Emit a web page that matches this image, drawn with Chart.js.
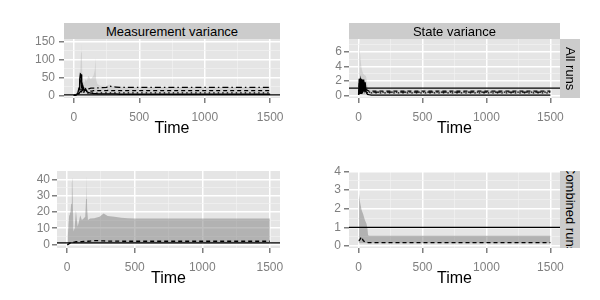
<!DOCTYPE html>
<html>
<head>
<meta charset="utf-8">
<script src="https://cdn.jsdelivr.net/npm/chart.js@4.4.1/dist/chart.umd.min.js"></script>
<style>
  body { margin: 0; background: #fff; }
  #wrap { position: relative; width: 600px; height: 300px; font-family: "Liberation Sans", Arial, sans-serif; }
  canvas { position: absolute; }
  .strip { position: absolute; background: #CCCCCC; color: #000; font-size: 13px; display: flex;
           align-items: center; justify-content: center; overflow: hidden; white-space: nowrap; }
  .strip.side { writing-mode: vertical-rl; }
</style>
</head>
<body>
<div id="wrap">
  <canvas id="tl" width="300" height="150" style="left:0;top:0"></canvas>
  <canvas id="tr" width="300" height="150" style="left:300px;top:0"></canvas>
  <canvas id="bl" width="300" height="150" style="left:0;top:150px"></canvas>
  <canvas id="br" width="300" height="150" style="left:300px;top:150px"></canvas>
  <div class="strip" style="left:64px;top:23px;width:216px;height:16px">Measurement variance</div>
  <div class="strip" style="left:349px;top:23px;width:211px;height:16px">State variance</div>
  <div class="strip side" style="left:560px;top:39px;width:20px;height:59px">All runs</div>
  <div class="strip side" style="left:560px;top:171px;width:20px;height:77px">Combined runs</div>
</div>
<script>
const FONT = '"Liberation Sans", Arial, sans-serif';
const xMin = -75, xMax = 1575;
const xMajor = [0, 500, 1000, 1500];
const xMinor = [250, 750, 1250];
const trueValue = 1;

// measurement variance, all runs
const tlTime = [0, 10, 20, 30, 40, 45, 50, 55, 60, 65, 70, 80, 90, 100, 110, 120, 130, 140, 150, 160,
  165, 170, 180, 200, 250, 270, 290, 320, 350, 400, 500, 600, 700, 800, 900, 1000, 1100, 1200, 1300, 1400, 1500];
const tlRibbonHigh = [0, 2, 8, 20, 35, 50, 70, 120, 150, 50, 40, 35, 45, 40, 55, 50, 45, 50, 55, 70,
  105, 45, 32, 27, 26, 30, 27, 26, 25, 24, 23, 23, 23, 23, 23, 23, 23, 23, 23, 23, 23];
const tlRibbonLow = [0, 0, 0, 0, 0, 0, 0, 0, 0, 0, 0, 0, 0, 0, 0, 0, 0, 0, 0, 0,
  0, 0, 0, 0, 0, 0, 0, 0, 0, 0, 0, 0, 0, 0, 0, 0, 0, 0, 0, 0, 0];
const tlRun1 = [0, 0, 2, 6, 20, 45, 60, 58, 30, 15, 25, 12, 18, 10, 8, 7, 6, 6, 5, 5,
  5, 5, 4, 4, 4, 4, 4, 4, 3, 3, 3, 3, 3, 3, 3, 3, 3, 3, 3, 3, 3];
const tlRun2 = [0, 0, 1, 4, 15, 30, 40, 35, 20, 12, 18, 25, 15, 12, 10, 11, 12, 12, 13, 13,
  13, 13, 13, 13, 13, 14, 13, 13, 13, 13, 13, 13, 13, 13, 13, 13, 13, 13, 13, 13, 13];
const tlRun3 = [0, 0, 1, 3, 8, 15, 22, 18, 10, 8, 10, 8, 7, 6, 6, 6, 6, 6, 6, 6,
  6, 6, 6, 7, 7, 7, 7, 7, 7, 7, 7, 7, 7, 7, 7, 7, 7, 7, 7, 7, 7];
const tlRun4 = [0, 0, 1, 2, 5, 8, 10, 12, 10, 8, 10, 12, 15, 17, 18, 19, 20, 20, 20, 20,
  20, 21, 21, 21, 22, 27, 24, 23, 22, 22, 22, 22, 22, 22, 22, 22, 22, 22, 22, 22, 22];

// state variance, all runs
const trTime = [0, 5, 10, 15, 20, 25, 30, 35, 40, 45, 50, 55, 60, 70, 80, 100,
  150, 200, 300, 400, 500, 600, 700, 800, 900, 1000, 1100, 1200, 1300, 1400, 1500];
const trRibbonHigh = [1.0, 7.5, 6.0, 5.0, 4.2, 3.6, 3.3, 3.0, 2.9, 2.8, 2.8, 2.7, 2.5, 1.2, 0.9, 0.8,
  0.8, 0.8, 0.8, 0.8, 0.8, 0.8, 0.8, 0.8, 0.8, 0.8, 0.8, 0.8, 0.8, 0.8, 0.8];
const trRibbonLow = [0, 0, 0, 0, 0, 0, 0, 0, 0, 0, 0, 0, 0, 0, 0, 0,
  0, 0, 0, 0, 0, 0, 0, 0, 0, 0, 0, 0, 0, 0, 0];
const trRun1 = [0.1, 2.3, 0.2, 2.3, 0.3, 2.2, 0.3, 2.2, 0.5, 1.8, 0.6, 1.2, 0.4, 0.15, 0.1, 0.05,
  0.05, 0.05, 0.05, 0.05, 0.05, 0.05, 0.05, 0.05, 0.05, 0.05, 0.05, 0.05, 0.05, 0.05, 0.05];
const trRun2 = [0.2, 1.5, 2.3, 0.4, 2.3, 0.5, 2.2, 0.6, 2.0, 0.8, 1.2, 0.9, 0.8, 0.7, 0.6, 0.6,
  0.6, 0.6, 0.6, 0.6, 0.6, 0.6, 0.6, 0.6, 0.6, 0.6, 0.6, 0.6, 0.6, 0.6, 0.6];
const trRun3 = [0.1, 0.8, 1.6, 2.1, 1.2, 2.2, 1.0, 1.8, 1.3, 0.9, 0.6, 0.5, 0.45, 0.4, 0.35, 0.35,
  0.35, 0.35, 0.35, 0.35, 0.35, 0.35, 0.35, 0.35, 0.35, 0.35, 0.35, 0.35, 0.35, 0.35, 0.35];
const trRun4 = [0.1, 0.5, 1.0, 1.8, 2.2, 1.5, 2.1, 1.6, 1.0, 0.7, 0.6, 0.55, 0.5, 0.45, 0.45, 0.45,
  0.45, 0.45, 0.45, 0.45, 0.45, 0.45, 0.45, 0.45, 0.45, 0.45, 0.45, 0.45, 0.45, 0.45, 0.45];

// measurement variance, combined runs
const blTime = [0, 5, 10, 15, 20, 25, 30, 35, 38, 42, 47, 55, 65, 72, 78, 87, 97, 109, 122, 134,
  140, 144, 148, 154, 170, 200, 240, 270, 300, 350, 400, 450, 500, 700, 1000, 1500];
const blRibbonHigh = [0, 5, 12, 18, 19, 20, 25, 38, 41, 25, 8, 10, 21, 15, 11, 14, 18, 15, 16, 17,
  28, 43, 22, 15, 16, 16.2, 17, 19, 17.5, 17, 16.5, 16.2, 16, 16, 16, 16];
const blRibbonLow = [0, 0.4, 0.5, 0.6, 0.6, 0.6, 0.6, 0.6, 0.6, 0.6, 0.6, 0.6, 0.6, 0.6, 0.6, 0.6, 0.6, 0.6, 0.6, 0.6,
  0.6, 0.6, 0.6, 0.6, 0.6, 0.6, 0.6, 0.6, 0.6, 0.6, 0.6, 0.6, 0.6, 0.6, 0.6, 0.6];
const blMean = [0, 0, 0.2, 0.5, 0.8, 1.0, 1.2, 1.4, 1.5, 1.5, 1.4, 1.5, 1.7, 1.7, 1.6, 1.7, 1.8, 1.8, 1.9, 1.9,
  2.0, 2.2, 2.1, 2.0, 2.1, 2.4, 2.3, 2.2, 2.1, 2.1, 2.0, 2.0, 2.0, 2.0, 2.0, 2.0];

// state variance, combined runs
const brTime = [0, 3, 10, 23, 36, 49, 62, 70, 74, 80, 100, 200, 500, 1000, 1500];
const brRibbonHigh = [0.2, 2.8, 2.4, 1.95, 1.7, 1.4, 1.2, 0.9, 0.6, 0.55, 0.55, 0.55, 0.55, 0.55, 0.55];
const brRibbonLow = [0.15, 0.15, 0.15, 0.15, 0.15, 0.15, 0.15, 0.15, 0.15, 0.15, 0.15, 0.15, 0.15, 0.15, 0.15];
const brMean = [0.3, 0.3, 0.35, 0.5, 0.3, 0.22, 0.2, 0.2, 0.19, 0.19, 0.19, 0.19, 0.19, 0.19, 0.19];

const dashes = { solid: [], dashed: [4, 3], dotted: [1.5, 3], dotdash: [1.5, 3, 6, 3] };

function pts(times, values) {
  return times.map((t, i) => ({ x: t, y: values[i] }));
}

const panelBg = {
  id: 'panelBg',
  beforeDraw(chart) {
    const { ctx, chartArea: a } = chart;
    ctx.save();
    ctx.fillStyle = '#E5E5E5';
    ctx.fillRect(a.left, a.top, a.right - a.left, a.bottom - a.top);
    ctx.restore();
  },
};

function gridOpts(major) {
  return {
    color: c => major.includes(c.tick.value) ? '#FFFFFF' : '#F2F2F2',
    lineWidth: c => major.includes(c.tick.value) ? 1.5 : 0.7,
    tickColor: c => major.includes(c.tick.value) ? '#7F7F7F' : 'rgba(0,0,0,0)',
    tickLength: 5,
  };
}

function panel(id, cfg) {
  const datasets = [
    { data: [{ x: xMin, y: trueValue }, { x: xMax, y: trueValue }], borderColor: '#000', borderWidth: 1.3, order: 0 },
  ];
  cfg.lines.forEach(([values, dash]) => {
    datasets.push({ data: pts(cfg.time, values), borderColor: '#000', borderWidth: 1.3, borderDash: dashes[dash], order: 1 });
  });
  datasets.push({ data: pts(cfg.time, cfg.low), borderColor: 'rgba(0,0,0,0)', borderWidth: 0, order: 2 });
  datasets.push({ data: pts(cfg.time, cfg.high), borderColor: 'rgba(0,0,0,0)', borderWidth: 0, fill: '-1',
                  backgroundColor: cfg.ribbon, order: 2 });

  new Chart(document.getElementById(id), {
    type: 'line',
    data: { datasets },
    plugins: [panelBg],
    options: {
      responsive: false,
      animation: false,
      events: [],
      layout: { autoPadding: false, padding: cfg.padding },
      elements: { point: { radius: 0 }, line: { tension: 0 } },
      plugins: { legend: { display: false }, tooltip: { enabled: false } },
      scales: {
        x: {
          type: 'linear', min: xMin, max: xMax,
          afterBuildTicks: s => { s.ticks = xMajor.concat(xMinor).sort((a, b) => a - b).map(v => ({ value: v })); },
          afterFit: s => { s.height = 52; },
          ticks: { autoSkip: false, maxRotation: 0, color: '#7F7F7F', padding: 7, font: { size: 12, family: FONT },
                   callback: v => xMajor.includes(v) ? String(v) : '' },
          grid: gridOpts(xMajor),
          border: { display: false },
          title: { display: true, text: 'Time', color: '#000', font: { size: 16, family: FONT }, padding: { top: 0, bottom: 12 } },
        },
        y: {
          type: 'linear', min: cfg.yMin, max: cfg.yMax,
          afterBuildTicks: s => { s.ticks = cfg.yMajor.concat(cfg.yMinor).sort((a, b) => a - b).map(v => ({ value: v })); },
          afterFit: s => { s.width = cfg.yWidth; },
          ticks: { autoSkip: false, color: '#7F7F7F', padding: cfg.yPad, font: { size: 12, family: FONT },
                   callback: v => cfg.yMajor.includes(v) ? String(v) : '' },
          grid: gridOpts(cfg.yMajor),
          border: { display: false },
        },
      },
    },
  });
}

panel('tl', {
  time: tlTime, low: tlRibbonLow, high: tlRibbonHigh, ribbon: 'rgba(127,127,127,0.2)',
  lines: [[tlRun1, 'solid'], [tlRun2, 'dashed'], [tlRun3, 'dotted'], [tlRun4, 'dotdash']],
  yMin: -7.5, yMax: 157.5, yMajor: [0, 50, 100, 150], yMinor: [25, 75, 125],
  yWidth: 64, yPad: 4, padding: { left: 0, top: 39, right: 20, bottom: 0 },
});
panel('tr', {
  time: trTime, low: trRibbonLow, high: trRibbonHigh, ribbon: 'rgba(127,127,127,0.2)',
  lines: [[trRun1, 'solid'], [trRun2, 'dashed'], [trRun3, 'dotted'], [trRun4, 'dotdash']],
  yMin: -0.35, yMax: 7.75, yMajor: [0, 2, 4, 6], yMinor: [1, 3, 5, 7],
  yWidth: 49, yPad: 2, padding: { left: 0, top: 39, right: 40, bottom: 0 },
});
panel('bl', {
  time: blTime, low: blRibbonLow, high: blRibbonHigh, ribbon: 'rgba(127,127,127,0.5)',
  lines: [[blMean, 'dashed']],
  yMin: -2.15, yMax: 45.15, yMajor: [0, 10, 20, 30, 40], yMinor: [5, 15, 25, 35],
  yWidth: 57, yPad: 2, padding: { left: 0, top: 21, right: 20, bottom: 0 },
});
panel('br', {
  time: brTime, low: brRibbonLow, high: brRibbonHigh, ribbon: 'rgba(127,127,127,0.5)',
  lines: [[brMean, 'dashed']],
  yMin: -0.1, yMax: 4.02, yMajor: [0, 1, 2, 3, 4], yMinor: [0.5, 1.5, 2.5, 3.5],
  yWidth: 49, yPad: 3, padding: { left: 0, top: 21, right: 40, bottom: 0 },
});
</script>
</body>
</html>
